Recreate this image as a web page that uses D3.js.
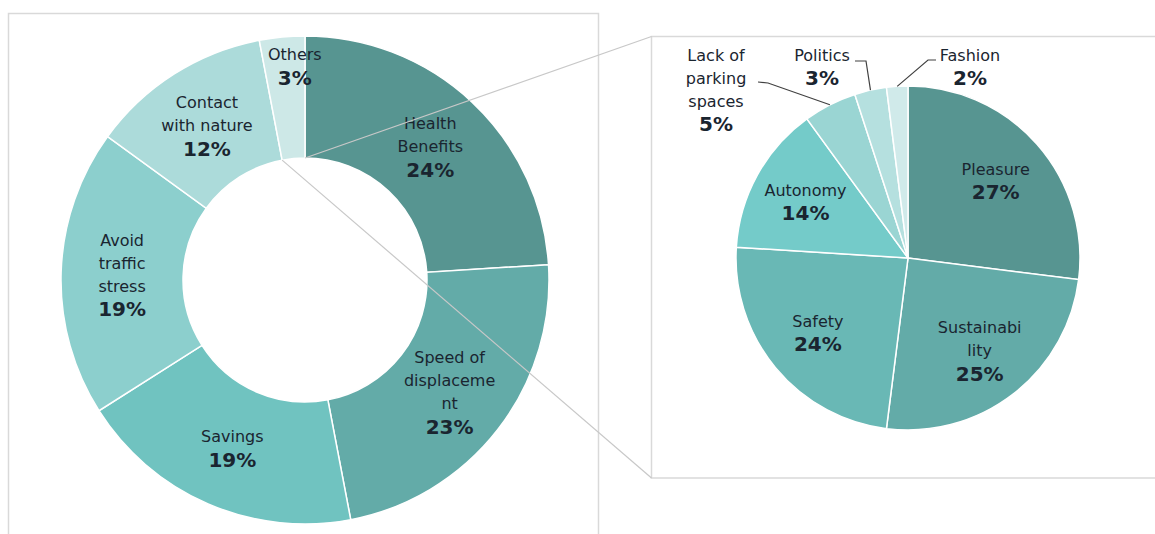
<!DOCTYPE html>
<html>
<head>
<meta charset="utf-8">
<script src="https://cdn.jsdelivr.net/npm/d3@7"></script>
<style>
  body { margin: 0; background: #fff; }
  text { font-family: "DejaVu Sans", Verdana, sans-serif; fill: #1a2530; }
  .pct { font-weight: bold; }
</style>
</head>
<body>
<div id="chart"></div>
<script>
// main donut: reasons
var mainLabels = [["Health", "Benefits"], ["Speed of", "displaceme", "nt"], ["Savings"],
                  ["Avoid", "traffic", "stress"], ["Contact", "with nature"], ["Others"]];
var mainValues = [24, 23, 19, 19, 12, 3];
var mainColors = ["#579591", "#63aba8", "#70c3c0", "#8ccfcd", "#acdbda", "#cde8e7"];

// secondary pie: breakdown of "Others"
var subLabels = [["Pleasure"], ["Sustainabi", "lity"], ["Safety"], ["Autonomy"],
                 ["Lack of", "parking", "spaces"], ["Politics"], ["Fashion"]];
var subValues = [27, 25, 24, 14, 5, 3, 2];
var subColors = ["#579591", "#63aba8", "#69b8b5", "#74cbc9", "#9ad5d3", "#b5e0df", "#d0eaea"];

function init() {
    var w = 1155;
    var h = 534;
    var lineH = 23;

    var svg = d3.select("#chart")
        .append("svg")
        .attr("width", w)
        .attr("height", h);

    // frames
    svg.append("rect")
        .attr("x", 8.5).attr("y", 13.5)
        .attr("width", 590).attr("height", 600)
        .attr("fill", "none").attr("stroke", "#d9d9d9").attr("stroke-width", 1.5);

    var box = { x: 651.5, y: 36.5, w: 600, h: 441.5 };
    svg.append("rect")
        .attr("x", box.x).attr("y", box.y)
        .attr("width", box.w).attr("height", box.h)
        .attr("fill", "none").attr("stroke", "#d9d9d9").attr("stroke-width", 1.5);

    var pie = d3.pie().sort(null).value(function(d) { return d; });

    // ---- donut
    var cx = 305, cy = 280, rOut = 244, rIn = 122;
    var mainArcs = pie(mainValues);
    var arc = d3.arc().innerRadius(rIn).outerRadius(rOut);

    var g1 = svg.append("g").attr("transform", "translate(" + cx + "," + cy + ")");
    g1.selectAll("path")
        .data(mainArcs)
        .enter().append("path")
        .attr("d", arc)
        .attr("fill", function(d, i) { return mainColors[i]; })
        .attr("stroke", "#ffffff")
        .attr("stroke-width", 1.5);

    // connector lines from "Others" to the secondary box
    var oth = mainArcs[mainArcs.length - 1];
    var p1 = [cx + rIn * Math.sin(oth.endAngle), cy - rIn * Math.cos(oth.endAngle)];
    var p2 = [cx + rIn * Math.sin(oth.startAngle), cy - rIn * Math.cos(oth.startAngle)];
    svg.append("line")
        .attr("x1", p1[0]).attr("y1", p1[1]).attr("x2", box.x).attr("y2", box.y)
        .attr("stroke", "#c8c8c8").attr("stroke-width", 1.2);
    svg.append("line")
        .attr("x1", p2[0]).attr("y1", p2[1]).attr("x2", box.x).attr("y2", box.y + box.h)
        .attr("stroke", "#c8c8c8").attr("stroke-width", 1.2);

    function drawLabel(g, x, y, names, value) {
        var lines = names.length + 1;
        var top = y - (lines - 1) * lineH / 2;
        var t = g.append("g");
        names.forEach(function(n, k) {
            t.append("text")
                .attr("x", x).attr("y", top + k * lineH)
                .attr("dy", "0.36em")
                .attr("text-anchor", "middle")
                .style("font-size", "16px")
                .text(n);
        });
        t.append("text")
            .attr("class", "pct")
            .attr("x", x).attr("y", top + names.length * lineH)
            .attr("dy", "0.36em")
            .attr("text-anchor", "middle")
            .style("font-size", "20px")
            .text(value + "%");
    }

    var labelArc = d3.arc().innerRadius(rIn).outerRadius(rOut);
    mainArcs.forEach(function(d, i) {
        var c = labelArc.centroid(d);
        if (i === mainArcs.length - 1) {
            // small slice: label sits near the outer rim
            var a = (d.startAngle + d.endAngle) / 2;
            c = [Math.sin(a) * (rOut - 29) + 10, -Math.cos(a) * (rOut - 29)];
        }
        drawLabel(g1, c[0], c[1], mainLabels[i], mainValues[i]);
    });

    // ---- secondary pie
    var px = 908, py = 258, pr = 172;
    var subArcs = pie(subValues);
    var arc2 = d3.arc().innerRadius(0).outerRadius(pr);
    var g2 = svg.append("g").attr("transform", "translate(" + px + "," + py + ")");
    g2.selectAll("path")
        .data(subArcs)
        .enter().append("path")
        .attr("d", arc2)
        .attr("fill", function(d, i) { return subColors[i]; })
        .attr("stroke", "#ffffff")
        .attr("stroke-width", 1.5);

    var inner2 = d3.arc().innerRadius(pr * 0.68).outerRadius(pr * 0.68);
    // outside labels: anchor offsets relative to pie centre, and where the leader leaves the text
    var outside = {
        4: { x: -192, y: -168.5, from: [[-150, -176], [-140, -175]] },
        5: { x: -86, y: -191.5, from: [[-53, -197], [-42, -197]] },
        6: { x: 62, y: -191.5, from: [[28, -198], [20, -198]] }
    };

    subArcs.forEach(function(d, i) {
        var o = outside[i];
        if (!o) {
            var c = inner2.centroid(d);
            drawLabel(g2, c[0], c[1], subLabels[i], subValues[i]);
            return;
        }
        var a = (d.startAngle + d.endAngle) / 2;
        var edge = [Math.sin(a) * pr, -Math.cos(a) * pr];
        g2.append("path")
            .attr("d", d3.line()(o.from.concat([edge])))
            .attr("fill", "none")
            .attr("stroke", "#404040")
            .attr("stroke-width", 1.2);
        drawLabel(g2, o.x, o.y, subLabels[i], subValues[i]);
    });
}

window.onload = init;
</script>
</body>
</html>
